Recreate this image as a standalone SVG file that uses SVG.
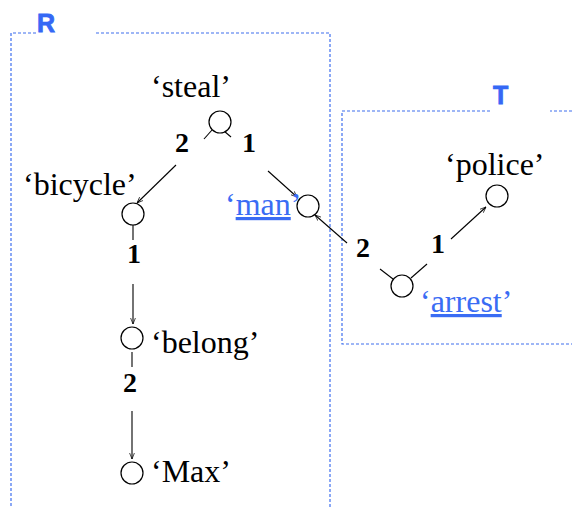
<svg xmlns="http://www.w3.org/2000/svg" width="572" height="507" viewBox="0 0 572 507">
<defs>
<marker id="arr" viewBox="0 0 10 10" refX="10" refY="5" markerWidth="6" markerHeight="6" orient="auto" markerUnits="userSpaceOnUse">
<path d="M0,1 L10,5 L0,9" fill="none" stroke="#000" stroke-width="1.2"/>
</marker>
</defs>
<style>
.box{fill:none;stroke:#3f6fee;stroke-width:1.2;stroke-dasharray:3,2}
.bl{font-family:'Liberation Sans',Arial,sans-serif;font-weight:bold;font-size:25px;fill:#3568f5}
.nd{fill:#fff;stroke:#000;stroke-width:1.2}
.lab{font-family:'Liberation Serif','Times New Roman',serif;font-size:32px;fill:#000}
.lk{font-family:'Liberation Serif','Times New Roman',serif;font-size:32px;fill:#3a6cf4}
.u{text-decoration:underline}
.num{font-family:'Liberation Serif','Times New Roman',serif;font-size:28px;font-weight:bold;fill:#000}
.e{stroke:#000;stroke-width:1.1;fill:none}
</style>
<g id="boxR">
<path class="box" d="M36,33 H11 V507 M96,33 H330 V507"/>
<text class="bl" x="37" y="32" stroke="#3568f5" stroke-width="0.8">R</text>
</g>
<g id="boxT">
<path class="box" d="M572,111 H550 M490,111 H342 V344 H572"/>
<text class="bl" x="493" y="104" stroke="#3568f5" stroke-width="0.8">T</text>
</g>
<g id="connectors">
<line class="e" x1="212" y1="130" x2="204" y2="139"/>
<line class="e" x1="176" y1="165" x2="137" y2="203" marker-end="url(#arr)"/>
<line class="e" x1="224" y1="131" x2="231" y2="137"/>
<line class="e" x1="268" y1="171" x2="297" y2="197" marker-end="url(#arr)"/>
<line class="e" x1="133" y1="225" x2="133" y2="240"/>
<line class="e" x1="133" y1="284" x2="133" y2="324" marker-end="url(#arr)"/>
<line class="e" x1="132" y1="352" x2="132" y2="367"/>
<line class="e" x1="132" y1="411" x2="132" y2="459" marker-end="url(#arr)"/>
<line class="e" x1="393" y1="279" x2="380" y2="269"/>
<line class="e" x1="347" y1="243" x2="315" y2="215" marker-end="url(#arr)"/>
<line class="e" x1="411" y1="278" x2="427" y2="264"/>
<line class="e" x1="451" y1="239" x2="486" y2="207" marker-end="url(#arr)"/>
<text class="num" x="175" y="152">2</text>
<text class="num" x="242" y="152">1</text>
<text class="num" x="127" y="263">1</text>
<text class="num" x="123" y="392">2</text>
<text class="num" x="356" y="257">2</text>
<text class="num" x="431" y="253">1</text>
</g>
<g id="steal"><circle class="nd" cx="220" cy="122" r="11"/><text class="lab" x="151" y="97">‘steal’</text></g>
<g id="bicycle"><circle class="nd" cx="133" cy="214" r="11"/><text class="lab" x="23" y="195">‘bicycle’</text></g>
<g id="man"><circle class="nd" cx="308" cy="206" r="11"/><text class="lk" x="225" y="215">‘<tspan class="u">man</tspan>’</text></g>
<g id="belong"><circle class="nd" cx="132" cy="338" r="11"/><text class="lab" x="151" y="353">‘belong’</text></g>
<g id="Max"><circle class="nd" cx="132" cy="473" r="11"/><text class="lab" x="151" y="482">‘Max’</text></g>
<g id="arrest"><circle class="nd" cx="402" cy="286" r="11"/><text class="lk" x="420" y="312">‘<tspan class="u">arrest</tspan>’</text></g>
<g id="police"><circle class="nd" cx="497" cy="196" r="11"/><text class="lab" x="445" y="175">‘police’</text></g>
</svg>
